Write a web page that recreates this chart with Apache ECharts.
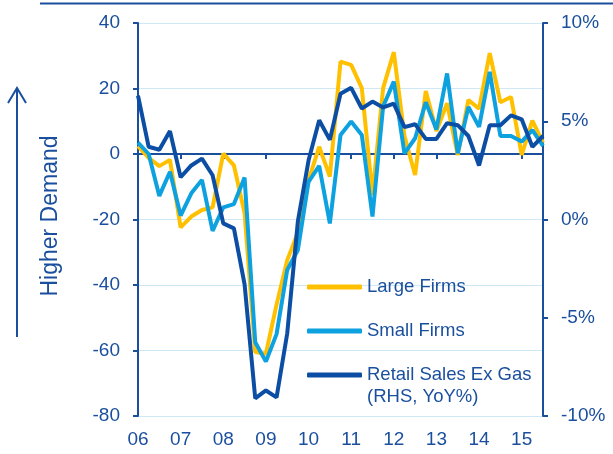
<!DOCTYPE html>
<html>
<head>
<meta charset="utf-8">
<script src="https://cdn.jsdelivr.net/npm/echarts@6/dist/echarts.min.js"></script>
<style>
  html, body { margin: 0; padding: 0; background: #fff; }
  #chart { width: 613px; height: 454px; }
</style>
</head>
<body>
<div id="chart"></div>
<script>
// quarterly, 06Q1 .. 15Q3
const years = ['06', '07', '08', '09', '10', '11', '12', '13', '14', '15']
const quarters = []
years.forEach(y => ['Q1', 'Q2', 'Q3', 'Q4'].forEach(q => quarters.push(y + ' ' + q)))
quarters.length = 39

// demand balance, large firms (LHS)
const largeFirms = [2.4, -1.2, -3.7, -1.8, -22.4, -19.1, -17.1, -16.3, 0.1, -3.5,
  -18, -60.5, -61, -46, -32.4, -24, -8, 2.2, -6.9, 28.2,
  27.2, 20.1, -12.5, 20.1, 31.1, 5.5, -6.4, 19.2, 7, 15.5,
  -0.3, 16.5, 13.8, 30.8, 15.8, 17.4, -0.3, 10.2, 3.4]
// demand balance, small firms (LHS)
const smallFirms = [3.5, 0, -12.8, -5.4, -18.8, -12, -7.9, -23.5, -16.3, -15.3,
  -7.2, -57.5, -63.4, -55, -35.4, -29.3, -8.5, -3.6, -21.2, 5.8,
  9.9, 5.8, -19.1, 14.5, 22.1, 0.2, 4.8, 15.8, 7.5, 24.6,
  0.2, 14.4, 8.3, 25.1, 5.5, 5.5, 3.8, 7.3, 2.5]
// retail sales ex gas, yoy % (RHS)
const retailSales = [6.3, 3.7, 3.55, 4.5, 2.15, 2.75, 3.1, 2.25, -0.2, -0.45,
  -3.3, -9.1, -8.7, -9.05, -5.8, -0.1, 3.0, 5.05, 4.05, 6.4,
  6.7, 5.65, 6.0, 5.7, 5.9, 4.7, 4.85, 4.1, 4.1, 4.9,
  4.8, 4.25, 2.75, 4.8, 4.8, 5.3, 5.1, 3.7, 4.25]

const navy = '#1a4f9e'
const font = "'Liberation Sans', Arial, sans-serif"
const yearStart = (i) => i % 4 === 0
const retailName = 'Retail Sales Ex Gas\n(RHS, YoY%)'

// one legend per item so each can be placed on its own
function legendAt(name, top, fmt) {
  return {
    orient: 'vertical',
    left: 307,
    top: top,
    padding: 0,
    itemWidth: 55,
    itemHeight: 5,
    icon: 'roundRect',
    formatter: fmt || '{name}',
    textStyle: { color: navy, fontSize: 18.5, lineHeight: 22, fontFamily: font },
    data: [name]
  }
}

const chart = echarts.init(document.getElementById('chart'))
chart.setOption({
  animation: false,
  textStyle: { fontFamily: font },
  grid: { left: 138, right: 70, top: 23, bottom: 38 },
  legend: [
    legendAt('Large Firms', 276),
    legendAt('Small Firms', 320),
    // blank first line keeps the icon level with "Retail Sales Ex Gas"
    legendAt(retailName, 342, '\n{name}')
  ],
  xAxis: [{
    type: 'category',
    data: quarters,
    boundaryGap: false,
    position: 'bottom',
    axisLine: { show: false, onZero: false },
    axisTick: { show: false },
    axisLabel: {
      interval: yearStart,
      formatter: v => v.slice(0, 2),
      color: navy,
      fontSize: 19,
      margin: 14
    },
    splitLine: { show: false }
  }, {
    type: 'category',
    data: quarters,
    boundaryGap: false,
    position: 'bottom',
    axisLine: { show: true, onZero: true, onZeroAxisIndex: 0, lineStyle: { color: navy, width: 2 } },
    axisTick: { show: true, interval: yearStart, length: 5, lineStyle: { color: navy, width: 2 } },
    axisLabel: { show: false },
    splitLine: { show: false }
  }],
  yAxis: [{
    type: 'value',
    min: -80,
    max: 40,
    interval: 20,
    position: 'left',
    axisLine: { show: true, lineStyle: { color: navy, width: 2 } },
    axisTick: { show: true, length: 5, lineStyle: { color: navy, width: 2 } },
    axisLabel: { color: navy, fontSize: 19, margin: 18 },
    splitLine: { show: true, lineStyle: { color: '#cfe8f5', width: 1 } }
  }, {
    type: 'value',
    min: -10,
    max: 10,
    interval: 5,
    position: 'right',
    axisLine: { show: true, lineStyle: { color: navy, width: 2 } },
    axisTick: { show: true, length: 5, lineStyle: { color: navy, width: 2 } },
    axisLabel: { color: navy, fontSize: 19, margin: 18, formatter: '{value}%' },
    splitLine: { show: false }
  }],
  series: [{
    name: 'Large Firms',
    type: 'line',
    data: largeFirms,
    yAxisIndex: 0,
    symbol: 'none',
    color: '#ffc000',
    lineStyle: { width: 4, color: '#ffc000' }
  }, {
    name: 'Small Firms',
    type: 'line',
    data: smallFirms,
    yAxisIndex: 0,
    symbol: 'none',
    color: '#0ea1e0',
    lineStyle: { width: 4, color: '#0ea1e0' }
  }, {
    name: retailName,
    type: 'line',
    data: retailSales,
    yAxisIndex: 1,
    symbol: 'none',
    color: '#0c4ea3',
    lineStyle: { width: 4, color: '#0c4ea3' }
  }],
  graphic: [
    { type: 'line', shape: { x1: 40, y1: 3.5, x2: 613, y2: 3.5 }, style: { stroke: navy, lineWidth: 2 } },
    { type: 'line', shape: { x1: 17, y1: 337, x2: 17, y2: 88 }, style: { stroke: navy, lineWidth: 2 } },
    { type: 'polyline', shape: { points: [[8, 103], [17, 88], [26, 103]] }, style: { stroke: navy, lineWidth: 2, fill: null } },
    {
      type: 'text',
      x: 51,
      y: 216,
      rotation: Math.PI / 2,
      style: { text: 'Higher Demand', fill: navy, font: '23px ' + font, textAlign: 'center', textVerticalAlign: 'middle' }
    }
  ]
})
</script>
</body>
</html>
